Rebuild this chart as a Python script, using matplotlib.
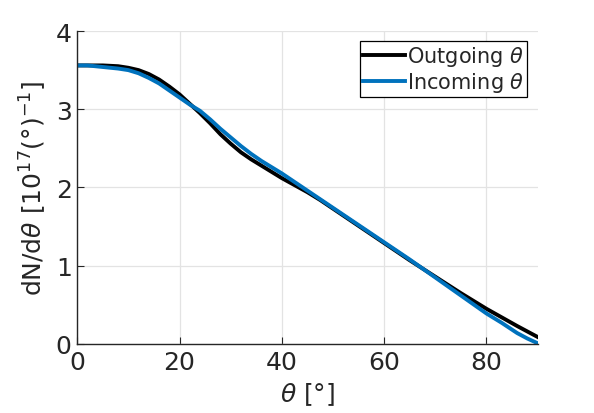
#!/usr/bin/env python3
"""Angular distribution dN/dtheta for outgoing vs incoming theta (MATLAB-style look)."""
import matplotlib
matplotlib.use("Agg")
import matplotlib.pyplot as plt

# values
theta = [0, 2, 5, 8, 10, 12, 14, 16, 18, 20, 22, 24, 26, 28, 30, 32, 34, 36, 38, 40,
         42.5, 45, 47.5, 50, 55, 60, 65, 70, 75, 80, 83, 86, 88, 90]
outgoing = [3.56, 3.56, 3.56, 3.55, 3.53, 3.50, 3.45, 3.38, 3.29, 3.19, 3.07, 2.95, 2.82,
            2.68, 2.56, 2.45, 2.36, 2.28, 2.20, 2.12,
            2.03, 1.94, 1.84, 1.73, 1.51, 1.29, 1.07, 0.86, 0.65, 0.45, 0.34, 0.23, 0.16, 0.09]
incoming = [3.56, 3.56, 3.54, 3.52, 3.50, 3.46, 3.40, 3.33, 3.24, 3.15, 3.06, 2.98, 2.87,
            2.75, 2.64, 2.53, 2.43, 2.34, 2.26, 2.18,
            2.07, 1.96, 1.85, 1.74, 1.52, 1.30, 1.08, 0.85, 0.62, 0.39, 0.27, 0.14, 0.07, 0.01]

BLUE = "#0072BD"
AXC = "#262626"
GRID = "#e3e3e3"

fig = plt.figure(figsize=(5.94, 4.14), dpi=100, facecolor="white")
ax = fig.add_axes([0.13, 0.1667, 0.775, 0.756])

ax.plot(theta, outgoing, color="black", linewidth=2.8, label=r"Outgoing $\theta$")
ax.plot(theta, incoming, color=BLUE, linewidth=2.8, label=r"Incoming $\theta$")

ax.set_xlim(0, 90)
ax.set_ylim(0, 4)
ax.set_xticks([0, 20, 40, 60, 80])
ax.set_yticks([0, 1, 2, 3, 4])
ax.grid(True, color=GRID, linewidth=0.9)
ax.set_axisbelow(True)
for side in ("top", "right"):
    ax.spines[side].set_visible(False)
for side in ("left", "bottom"):
    ax.spines[side].set_color(AXC)
    ax.spines[side].set_linewidth(1.0)
ax.tick_params(direction="in", length=5, width=0.8, colors=AXC, labelsize=18, pad=4)

ax.set_xlabel(r"$\theta$ [°]", fontsize=18, color=AXC, labelpad=5)
ax.set_ylabel(r"dN/d$\theta$ [10$^{17}$(°)$^{-1}$]", fontsize=18, color=AXC, labelpad=5)

leg = ax.legend(loc="upper right", bbox_to_anchor=(0.977, 0.968), fontsize=15,
                frameon=True, fancybox=False, handlelength=2.0, handletextpad=0.1,
                borderpad=0.15, labelspacing=0.1, borderaxespad=0)
leg.get_frame().set_edgecolor("black")
leg.get_frame().set_linewidth(0.9)
leg.get_frame().set_alpha(1)
for t in leg.get_texts():
    t.set_color(AXC)

fig.savefig("out.png", dpi=100)
